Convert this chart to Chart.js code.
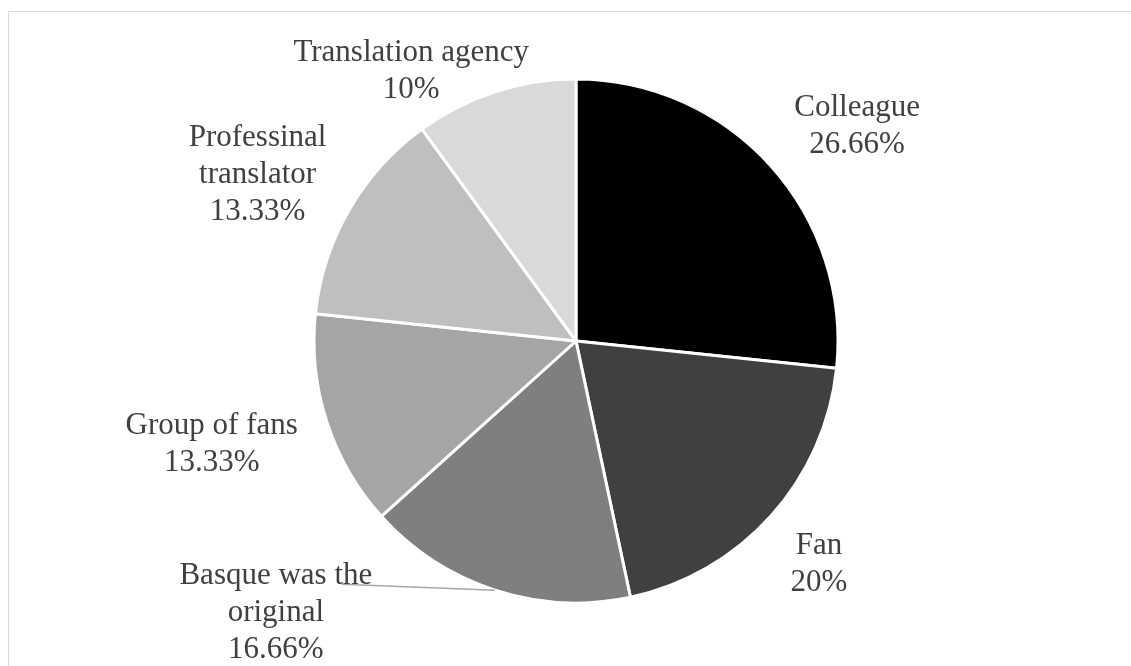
<!DOCTYPE html>
<html>
<head>
<meta charset="utf-8">
<script src="https://cdn.jsdelivr.net/npm/chart.js@4.4.1/dist/chart.umd.min.js"></script>
<style>
  html, body { margin: 0; padding: 0; background: #fff; overflow: hidden; }
  #wrap { position: relative; width: 1131px; height: 666px; overflow: hidden; }
  #frame {
    position: absolute; left: 8px; top: 11px; width: 1300px; height: 900px;
    border-left: 1.5px solid #d9d9d9; border-top: 1.5px solid #d9d9d9;
  }
  canvas { position: absolute; left: 0; top: 0; }
</style>
</head>
<body>
<div id="wrap">
  <div id="frame"></div>
  <canvas id="pie" width="1131" height="666"></canvas>
</div>
<script>
// Who translated the work: share of answers per category
const categories = ['Colleague', 'Fan', 'Basque was the original', 'Group of fans', 'Professinal translator', 'Translation agency'];
const labelLines = [['Colleague'], ['Fan'], ['Basque was the', 'original'], ['Group of fans'], ['Professinal', 'translator'], ['Translation agency']];
const shares = [26.66, 20, 16.66, 13.33, 13.33, 10];
const sliceColors = ['#000000', '#404040', '#7f7f7f', '#a5a5a5', '#bfbfbf', '#d9d9d9'];

// Label placement around the pie: angular nudge (degrees) and distance as a multiple of the radius
const labelPlacement = [
  { turn: 4.3,   reach: 1.356 },
  { turn: 0.3,   reach: 1.254 },
  { turn: 30.1,  reach: 1.539, leader: { dx: 66, dy: -26 } },
  { turn: 2.5,   reach: 1.443 },
  { turn: -2.1,  reach: 1.375 },
  { turn: -13.2, reach: 1.214 }
];

const sliceLabels = {
  id: 'sliceLabels',
  afterDatasetsDraw(chart) {
    const ctx = chart.ctx;
    const meta = chart.getDatasetMeta(0);
    const values = chart.data.datasets[0].data;
    ctx.save();
    meta.data.forEach((arc, i) => {
      const p = arc.getProps(['x', 'y', 'startAngle', 'endAngle', 'outerRadius'], true);
      const place = labelPlacement[i];
      const mid = (p.startAngle + p.endAngle) / 2;
      const a = mid + place.turn * Math.PI / 180;
      const lx = p.x + Math.cos(a) * p.outerRadius * place.reach;
      const ly = p.y + Math.sin(a) * p.outerRadius * place.reach;

      if (place.leader) {
        ctx.strokeStyle = '#a6a6a6';
        ctx.lineWidth = 1.5;
        ctx.beginPath();
        ctx.moveTo(p.x + Math.cos(mid) * p.outerRadius, p.y + Math.sin(mid) * p.outerRadius);
        ctx.lineTo(lx + place.leader.dx, ly + place.leader.dy);
        ctx.stroke();
      }

      const lines = labelLines[i].concat([String(values[i]) + '%']);
      const lh = 37;
      ctx.font = '31px "Liberation Serif", "Times New Roman", serif';
      ctx.fillStyle = '#404040';
      ctx.textAlign = 'center';
      ctx.textBaseline = 'alphabetic';
      lines.forEach((t, j) => {
        ctx.fillText(t, lx, ly + (j - (lines.length - 1) / 2) * lh + 10.5);
      });
    });
    ctx.restore();
  }
};

new Chart(document.getElementById('pie'), {
  type: 'pie',
  data: {
    labels: categories,
    datasets: [{
      data: shares,
      backgroundColor: sliceColors,
      borderColor: '#ffffff',
      borderWidth: 3,
      radius: 262
    }]
  },
  options: {
    responsive: false,
    animation: false,
    layout: { padding: { left: 21, top: 16, right: 0, bottom: 0 } },
    plugins: {
      legend: { display: false },
      tooltip: { enabled: false },
      title: { display: false }
    }
  },
  plugins: [sliceLabels]
});
</script>
</body>
</html>
